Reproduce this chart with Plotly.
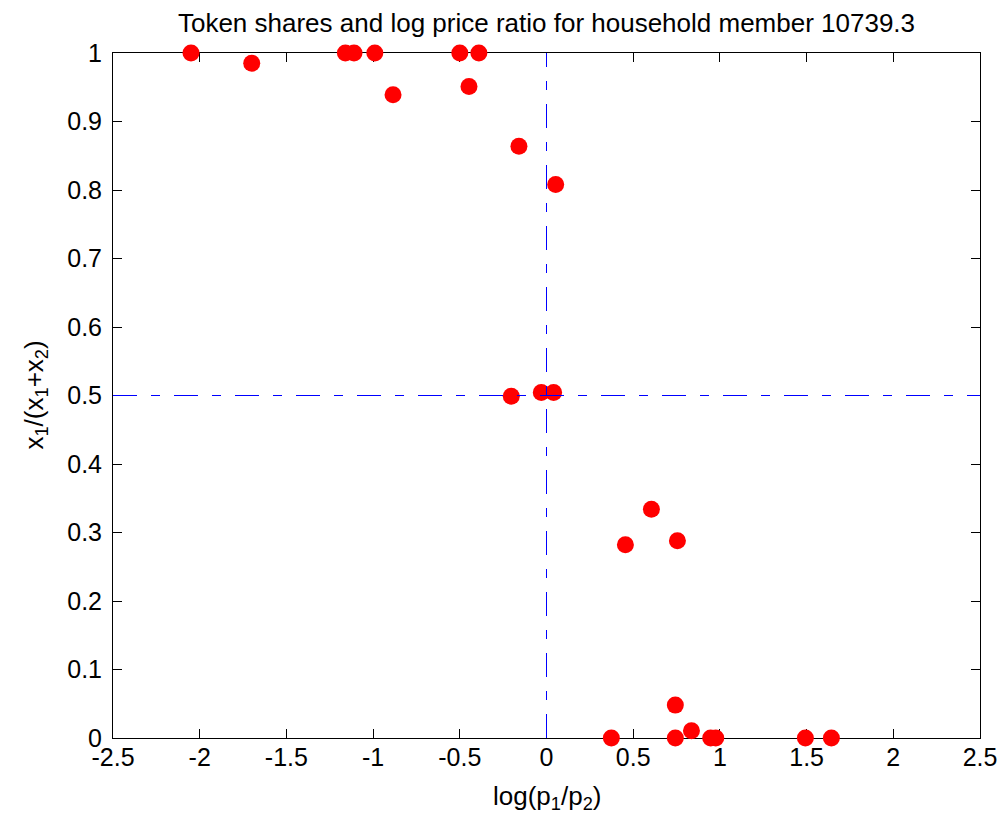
import plotly.graph_objects as go

# Data
log_price_ratio = [-2.05, -1.70, -1.16, -1.11, -0.99, -0.885, -0.50, -0.447, -0.39,
                   -0.159, 0.053, -0.203, -0.03, 0.041,
                   0.605, 0.455, 0.755,
                   0.374, 0.743, 0.743, 0.836, 0.947, 0.976, 1.493, 1.643]
token_share = [1.0, 0.985, 1.0, 1.0, 1.0, 0.939, 1.0, 0.951, 1.0,
               0.864, 0.808, 0.499, 0.5045, 0.5045,
               0.334, 0.282, 0.288,
               0.0, 0.048, 0.0, 0.0107, 0.0, 0.0, 0.0, 0.0]

x_ticks = [-2.5, -2, -1.5, -1, -0.5, 0, 0.5, 1, 1.5, 2, 2.5]
x_tick_labels = ["-2.5", "-2", "-1.5", "-1", "-0.5", "0", "0.5", "1", "1.5", "2", "2.5"]
y_ticks = [0, 0.1, 0.2, 0.3, 0.4, 0.5, 0.6, 0.7, 0.8, 0.9, 1]
y_tick_labels = ["0", "0.1", "0.2", "0.3", "0.4", "0.5", "0.6", "0.7", "0.8", "0.9", "1"]

ref_x = 0.0
ref_y = 0.5

title_text = "Token shares and log price ratio for household member 10739.3"
x_label = "log(p<sub>1</sub>/p<sub>2</sub>)"
y_label = "x<sub>1</sub>/(x<sub>1</sub>+x<sub>2</sub>)"

FONT = "Liberation Sans, Arial, Helvetica, sans-serif"
DASH = "24px,14px,9px,14px"

# the page body has an 8px default margin; compensate so the plot area lands at 113..980 x 53..738
PAGE_OFF = 8
W, H = 1006 - PAGE_OFF, 817 - PAGE_OFF
L, T, R = 113 - PAGE_OFF, 53 - PAGE_OFF, 26
B = H - T - 685

fig = go.Figure()
fig.add_trace(go.Scatter(
    x=log_price_ratio, y=token_share, mode="markers",
    marker=dict(color="#ff0000", size=17, line=dict(width=0)),
    cliponaxis=False, showlegend=False,
))

fig.add_hline(y=ref_y, line=dict(color="#0000ff", width=1, dash=DASH), layer="above")
fig.add_vline(x=ref_x, line=dict(color="#0000ff", width=1, dash=DASH), layer="above")

axis_common = dict(
    showline=True, linecolor="black", linewidth=1, mirror="ticks",
    ticks="inside", ticklen=9, tickcolor="black", tickwidth=1,
    showgrid=False, zeroline=False, layer="below traces",
    tickfont=dict(family=FONT, size=25, color="black"),
)

fig.update_xaxes(range=[-2.5, 2.5], tickvals=x_ticks, ticktext=x_tick_labels,
                 ticklabelstandoff=-3, **axis_common)
fig.update_yaxes(range=[0, 1], tickvals=y_ticks, ticktext=y_tick_labels,
                 ticklabelstandoff=5, **axis_common)

fig.update_layout(
    width=W, height=H,
    margin=dict(l=L, r=R, t=T, b=B, autoexpand=False),
    plot_bgcolor="white", paper_bgcolor="white",
    font=dict(family=FONT, color="black"),
    title=dict(text=title_text, x=0.5, xref="paper", xanchor="center",
               y=1 - (23 - PAGE_OFF) / H, yref="container", yanchor="middle",
               font=dict(family=FONT, size=26, color="black")),
    annotations=[
        dict(text=x_label, xref="paper", yref="paper", x=0.5, y=-(797 - 738) / 685,
             xanchor="center", yanchor="middle", showarrow=False,
             font=dict(family=FONT, size=26, color="black")),
        dict(text=y_label, xref="paper", yref="paper", x=-(113 - 35) / 867, y=0.5,
             xanchor="center", yanchor="middle", showarrow=False, textangle=-90,
             font=dict(family=FONT, size=26, color="black")),
    ],
)

fig.write_html("out.html")
